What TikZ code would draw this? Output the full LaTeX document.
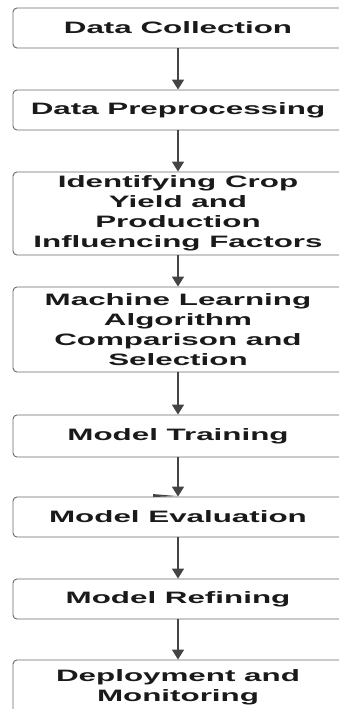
\documentclass[tikz,border=0pt]{standalone}
\usepackage{fontspec}
\setmainfont{Liberation Sans}[FakeStretch=1.9]
\usetikzlibrary{arrows.meta}
\definecolor{boxgray}{HTML}{6A6A6A}
\definecolor{arrowgray}{HTML}{444444}
\definecolor{textdark}{HTML}{1A1A1A}
\begin{document}
\begin{tikzpicture}[x=1pt,y=-1pt,
  stage/.style={draw=boxgray, line width=0.9pt, rounded corners=4pt, fill=white,
    minimum width=330pt, inner sep=0pt, align=center,
    font=\fontsize{16.5}{20}\selectfont\bfseries, text=textdark},
  flow/.style={draw=arrowgray, line width=1.7pt, -{Triangle[width=12pt,length=10pt]}}]
\clip (0,0) rectangle (339,709);
\path[use as bounding box] (0,0) rectangle (339,709);

% process stages, top to bottom
\node[stage, minimum height=40pt] (collect) at (178,28) {Data Collection};
\node[stage, minimum height=40pt] (prep) at (178,110) {Data Preprocessing};
\node[stage, minimum height=83pt] (factors) at (178,213.5) {Identifying Crop\\Yield and\\Production\\Influencing Factors};
\node[stage, minimum height=85pt] (select) at (178,329.5) {Machine Learning\\Algorithm\\Comparison and\\Selection};
\node[stage, minimum height=42pt] (train) at (178,436) {Model Training};
\node[stage, minimum height=40pt] (eval) at (178,517) {Model Evaluation};
\node[stage, minimum height=40pt] (refine) at (178,599) {Model Refining};
\node[stage, minimum height=55pt] (deploy) at (178,687.5) {Deployment and\\Monitoring};

% connectors
\draw[flow] (collect.south) -- (prep.north);
\draw[flow] (prep.south) -- (factors.north);
\draw[flow] (factors.south) -- (select.north);
\draw[flow] (select.south) -- (train.north);
\draw[flow] (train.south) -- (eval.north);
\draw[flow] (eval.south) -- (refine.north);
\draw[flow] (refine.south) -- (deploy.north);

% small stray wedge beside the evaluation arrow tip
\fill[arrowgray, shift={(eval.north)}] (-25,-2.5) -- (-1,-0.5) -- (-25,0.5) -- cycle;
\end{tikzpicture}
\end{document}
